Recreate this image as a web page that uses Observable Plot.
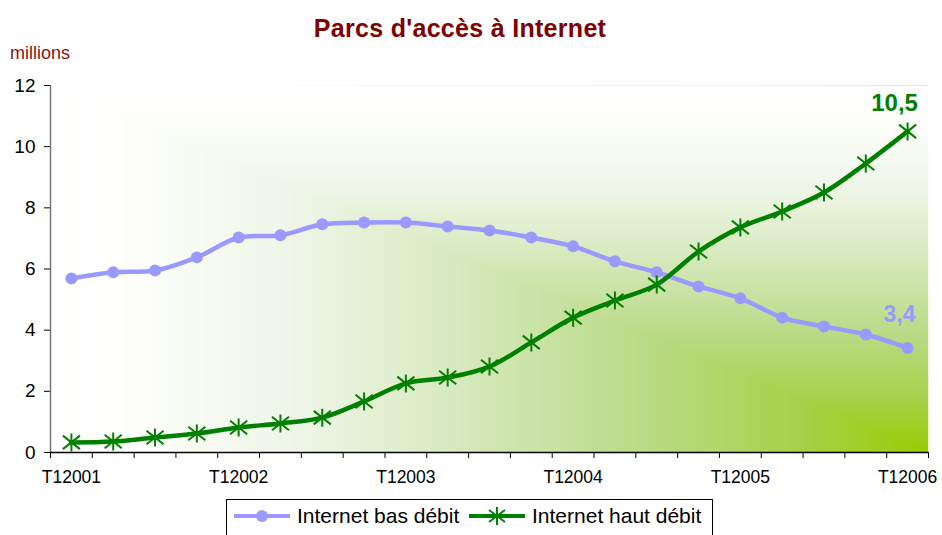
<!DOCTYPE html>
<html>
<head>
<meta charset="utf-8">
<script src="https://cdn.jsdelivr.net/npm/d3@7"></script>
<script src="https://cdn.jsdelivr.net/npm/@observablehq/plot@0.6"></script>
<style>
  html, body { margin: 0; padding: 0; background: #fff; }
  body { width: 942px; height: 535px; position: relative; overflow: hidden; font-family: "Liberation Sans", Arial, sans-serif; }
  #title { position: absolute; left: 0; width: 920px; top: 14px; text-align: center; font-weight: bold; font-size: 25px; color: #800000; letter-spacing: 0.3px; }
  #unit { position: absolute; left: 10px; top: 43px; font-size: 18px; color: #8b1010; }
  #chart { position: absolute; left: 0; top: 70px; }
  #legend { position: absolute; left: 226px; top: 499px; width: 487px; height: 50px; border: 1px solid #000; background: #fff; box-sizing: border-box; }
  .item { position: absolute; top: 4px; display: flex; align-items: center; font-size: 21px; color: #000; white-space: nowrap; }
  .item svg { margin-right: 6px; }
</style>
</head>
<body>
<div id="title">Parcs d'accès à Internet</div>
<div id="unit">millions</div>
<div id="chart"></div>
<div id="legend">
  <div class="item" style="left:6px"><svg width="58" height="20"><line x1="1" y1="10" x2="57" y2="10" stroke="#9999ff" stroke-width="4"/><circle cx="29" cy="10" r="6" fill="#9999ff"/></svg><span>Internet bas débit</span></div>
  <div class="item" style="left:241px"><svg width="58" height="20"><line x1="1" y1="10" x2="57" y2="10" stroke="#008000" stroke-width="4"/><path d="M29,1V19M21,4L37,16M21,16L37,4" stroke="#008000" stroke-width="2" fill="none"/></svg><span>Internet haut débit</span></div>
</div>
<script>
const yearLabels = ["T12001", "T12002", "T12003", "T12004", "T12005", "T12006"];
const basDebit = [5.69, 5.89, 5.95, 6.38, 7.03, 7.10, 7.46, 7.52, 7.52, 7.39, 7.26, 7.03, 6.74, 6.25, 5.89, 5.43, 5.04, 4.41, 4.12, 3.86, 3.42];
const hautDebit = [0.33, 0.36, 0.49, 0.62, 0.82, 0.95, 1.14, 1.67, 2.26, 2.45, 2.81, 3.60, 4.41, 4.97, 5.49, 6.57, 7.36, 7.88, 8.50, 9.45, 10.5];
const yTicks = [0, 2, 4, 6, 8, 10, 12];

const n = basDebit.length;
const bas = basDebit.map((v, i) => ({i, v}));
const haut = hautDebit.map((v, i) => ({i, v}));
const boundaries = d3.range(n + 1).map(i => i - 0.5);
const labelIdx = yearLabels.map((_, k) => k * 4);
const fmt = v => String(v).replace(".", ",");

const star = {
  draw(ctx, size) {
    const r = Math.sqrt(size / Math.PI);
    ctx.moveTo(0, -r); ctx.lineTo(0, r);
    ctx.moveTo(-r * 0.95, -r * 0.75); ctx.lineTo(r * 0.95, r * 0.75);
    ctx.moveTo(-r * 0.95, r * 0.75); ctx.lineTo(r * 0.95, -r * 0.75);
  }
};

const chart = Plot.plot({
  width: 942,
  height: 422,
  marginTop: 15,
  marginBottom: 40,
  marginLeft: 50,
  marginRight: 14,
  style: {fontFamily: "'Liberation Sans', Arial, sans-serif", background: "transparent"},
  x: {domain: [-0.5, n - 0.5], axis: null},
  y: {domain: [0, 12], axis: null},
  marks: [
    Plot.frame({fill: "url(#bgpat)", stroke: "none"}),
    Plot.axisX({ticks: boundaries, tickSize: 6, tickFormat: () => "", label: null, stroke: "#000", strokeWidth: 1}),
    Plot.axisX({ticks: labelIdx, tickSize: 0, tickPadding: 18, tickFormat: i => yearLabels[i / 4], label: null, fontSize: 17.5, fill: "#000"}),
    Plot.axisY({ticks: yTicks, tickSize: 6, tickPadding: 9, label: null, fontSize: 19, fill: "#000", stroke: "#000"}),
    Plot.ruleX([-0.5], {stroke: "#777", strokeWidth: 1.5}),
    Plot.ruleY([0], {stroke: "#000", strokeWidth: 1.5}),
    Plot.line(bas, {x: "i", y: "v", stroke: "#9999ff", strokeWidth: 4.5, curve: "catmull-rom"}),
    Plot.dot(bas, {x: "i", y: "v", r: 6, fill: "#9999ff", stroke: "none"}),
    Plot.line(haut, {x: "i", y: "v", stroke: "#008000", strokeWidth: 4.5, curve: "catmull-rom"}),
    Plot.dot(haut, {x: "i", y: "v", r: 9, symbol: star, stroke: "#008000", strokeWidth: 2, fill: "none"}),
    Plot.text([haut[n - 1]], {x: "i", y: "v", text: d => fmt(d.v), dx: -13, dy: -28, fill: "#008000", fontWeight: "bold", fontSize: 24}),
    Plot.text([bas[n - 1]], {x: "i", y: "v", text: d => fmt(d.v.toFixed(1)), dx: -8, dy: -33, fill: "#9999ff", fontWeight: "bold", fontSize: 23})
  ]
});

// "From corner" rectangular gradient fill for the plot area (bottom-right corner)
const shade = d3.scaleLinear()
  .domain([0, 0.15, 0.35, 0.55, 0.72, 0.9, 1])
  .range(["#99cc00", "#a6d14a", "#bcdc8c", "#d8eac0", "#eef5e6", "#fdfefb", "#ffffff"])
  .interpolate(d3.interpolateRgb);
const defs = d3.select(chart).insert("defs", ":first-child");
const pat = defs.append("pattern").attr("id", "bgpat")
  .attr("patternUnits", "objectBoundingBox").attr("patternContentUnits", "objectBoundingBox")
  .attr("x", 0).attr("y", 0).attr("width", 1).attr("height", 1);
const steps = 120;
for (let k = 0; k < steps; k++) {
  const s = 1 - k / steps;
  pat.append("rect").attr("x", 1 - s).attr("y", 1 - s).attr("width", s + 0.001).attr("height", s + 0.001)
    .attr("fill", shade(s));
}

document.getElementById("chart").appendChild(chart);
</script>
</body>
</html>
